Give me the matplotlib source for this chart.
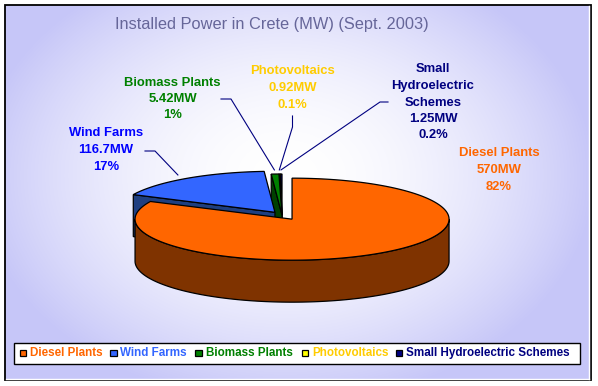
import matplotlib.pyplot as plt
import numpy as np
from matplotlib.patches import Polygon, Rectangle

# data
categories = ["Diesel Plants", "Wind Farms", "Biomass Plants", "Photovoltaics",
              "Small Hydroelectric Schemes"]
label_names = ["Diesel Plants", "Wind Farms", "Biomass Plants", "Photovoltaics",
               "Small\nHydroelectric\nSchemes"]
power_mw = [570, 116.7, 5.42, 0.92, 1.25]

# styles
top_colors = ["#ff6600", "#3366ff", "#008000", "#ffff00", "#000080"]
side_colors = ["#7f3300", "#1f3f80", "#004000", "#808000", "#000040"]
label_colors = ["#ff6600", "#0000ff", "#008000", "#ffcc00", "#000080"]
legend_colors = ["#ff6600", "#3366ff", "#008000", "#ffcc00", "#000080"]
explode = [0.12, 0.08, 0, 0, 0]

W, H = 598, 386
CX, CY = 282, 215      # pie centre (pixels)
RX, RY = 157, 41       # ellipse radii
DEPTH = 42             # pie thickness

label_pos = [(499, 170), (106, 150), (172.5, 99), (292.5, 88), (433, 102.5)]
leader_start = [None, [(145, 151), (155, 151)], [(221, 99), (231, 99)],
                [(292.5, 116), (292.5, 127)], [(388, 102), (380, 102)]]
legend_text_x = [30, 120.5, 205.5, 312, 406]

FONT = "Liberation Sans"

fig = plt.figure(figsize=(W / 100, H / 100), dpi=100)
ax = fig.add_axes([0, 0, 1, 1])

# background gradient inside the frame
yy, xx = np.mgrid[5:380, 5:591]
t = np.clip(np.sqrt(((xx - 285) / 310.0) ** 2 + ((yy - 175) / 230.0) ** 2), 0, 1) ** 1.8
edge = np.array([198, 198, 248]) / 255.0
img = (1 - t[..., None]) * 1.0 + t[..., None] * edge
ax.imshow(img, extent=(5, 591, 380, 5), aspect='auto', zorder=0)
ax.add_patch(Rectangle((5, 5), 586, 375, fill=False, ec='black', lw=1.3, zorder=1))
ax.plot([6, 589], [378.5, 378.5], color='white', lw=1, zorder=1)
ax.plot([589, 589], [6, 378.5], color='white', lw=1, zorder=1)

ax.text(271.5, 24, "Installed Power in Crete (MW) (Sept. 2003)", ha='center', va='center',
        fontsize=11.8, color='#666699', family=FONT)

total = sum(power_mw)
fracs = [v / total for v in power_mw]


def rim(theta, ox, oy, r=1.0, dy=0.0):
    th = np.radians(theta)
    return CX + ox + r * RX * np.cos(th), CY + oy - r * RY * np.sin(th) + dy


slices = []
start = 90.0
for i, f in enumerate(fracs):
    t1 = start
    t2 = start - f * 360
    mid = (t1 + t2) / 2
    ox = explode[i] * RX * np.cos(np.radians(mid))
    oy = -explode[i] * RY * np.sin(np.radians(mid))
    slices.append((i, t1, t2, mid, ox, oy))
    start = t2

# paint from back to front
z = 2
for i, t1, t2, mid, ox, oy in sorted(slices, key=lambda s: -np.sin(np.radians(s[3]))):
    c0 = (CX + ox, CY + oy)
    # radial faces
    for ang, visible in ((t1, np.cos(np.radians(t1)) < 0), (t2, np.cos(np.radians(t2)) > 0)):
        if visible:
            px, py = rim(ang, ox, oy)
            quad = [c0, (px, py), (px, py + DEPTH), (c0[0], c0[1] + DEPTH)]
            ax.add_patch(Polygon(quad, closed=True, fc=side_colors[i], ec='black', lw=0.9, zorder=z))
            z += 1
    # outer wall, front part only
    for k in (-1, 0, 1):
        s = max(t2, -180 + 360 * k)
        e = min(t1, 360 * k)
        if s < e:
            th = np.linspace(s, e, 120)
            xs, ys = rim(th, ox, oy)
            pts = list(zip(xs, ys)) + list(zip(xs[::-1], ys[::-1] + DEPTH))
            ax.add_patch(Polygon(pts, closed=True, fc=side_colors[i], ec='black', lw=0.9, zorder=z))
            z += 1
    # top
    th = np.linspace(t1, t2, max(int(abs(t1 - t2)) * 2, 4))
    xs, ys = rim(th, ox, oy)
    pts = [c0] + list(zip(xs, ys))
    ax.add_patch(Polygon(pts, closed=True, fc=top_colors[i], ec='black', lw=0.9, zorder=z))
    z += 1

# labels and leader lines
for i, t1, t2, mid, ox, oy in slices:
    pct = fracs[i] * 100
    pct_txt = "%.0f%%" % pct if pct >= 0.5 else "%.1f%%" % pct
    txt = "%s\n%gMW\n%s" % (label_names[i], power_mw[i], pct_txt)
    lx, ly = label_pos[i]
    ax.text(lx, ly, txt, ha='center', va='center', fontsize=9.4, fontweight='bold',
            color=label_colors[i], family=FONT, linespacing=1.5, zorder=50)
    if leader_start[i] is not None:
        ex, ey = rim(mid, ox, oy, r=1.1)
        pts = leader_start[i] + [(ex, ey)]
        ax.plot([p[0] for p in pts], [p[1] for p in pts], color='#000080', lw=0.8, zorder=40)

# legend
ax.add_patch(Rectangle((14, 343), 566, 21, fc='white', ec='black', lw=1, zorder=60))
for i, name in enumerate(categories):
    x0 = legend_text_x[i]
    ax.add_patch(Rectangle((x0 - 10.5, 349.5), 6.5, 6.5, fc=top_colors[i], ec='black', lw=0.9, zorder=61))
    ax.text(x0, 353, name, ha='left', va='center', fontsize=8.4, fontweight='bold',
            color=legend_colors[i], family=FONT, zorder=62)

ax.set_xlim(0, W)
ax.set_ylim(H, 0)
ax.axis('off')
fig.savefig('out.png', dpi=100)
